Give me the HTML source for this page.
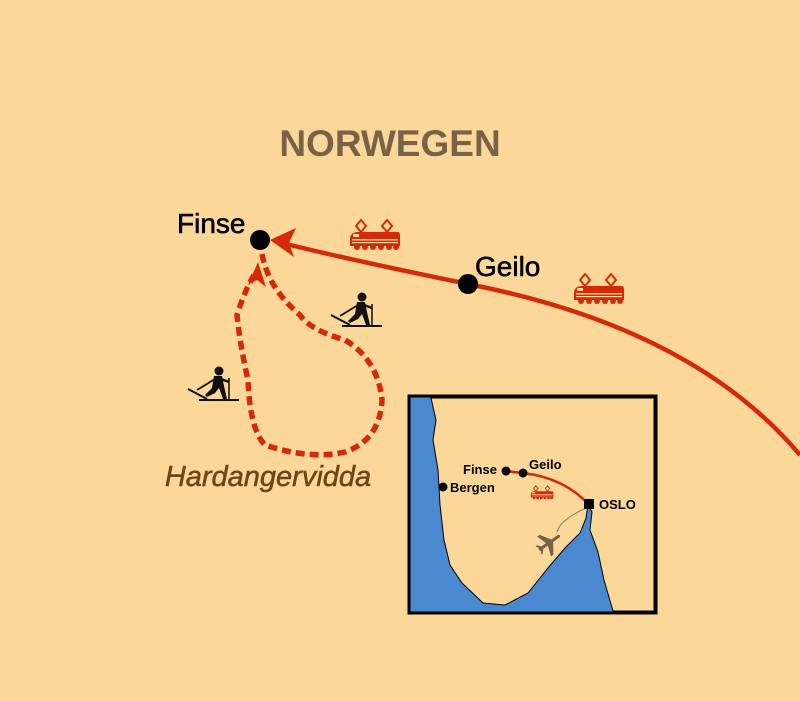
<!DOCTYPE html>
<html><head><meta charset="utf-8"><style>
html,body{margin:0;padding:0;background:#fbd899;}
svg{display:block}
text{font-family:"Liberation Sans",sans-serif}
</style></head><body>
<svg width="800" height="701" viewBox="0 0 800 701" xmlns="http://www.w3.org/2000/svg">
<defs>
<g id="train">
 <path d="M8 10 L13 4 L18 10 L13 16 Z M34 10 L39 4 L44 10 L39 16 Z" fill="none" stroke="#d42a0a" stroke-width="2"/>
 <path d="M2 30 L2 22 Q3 16 10 16 L50 16 Q52 16 52 20 L52 30 Z" fill="#d42a0a"/>
 <rect x="5" y="18" width="6" height="3" fill="#fbd899"/>
 <rect x="4" y="23" width="46" height="1.5" fill="#fbd899"/>
 <rect x="4" y="26" width="46" height="1.2" fill="#fbd899"/>
 <g fill="#d42a0a"><circle cx="9" cy="31" r="3"/><circle cx="17" cy="31" r="3"/><circle cx="25" cy="31" r="3"/><circle cx="33" cy="31" r="3"/><circle cx="41" cy="31" r="3"/><circle cx="48" cy="31" r="3"/></g>
</g>
<g id="skier" fill="#111">
 <circle cx="32" cy="5" r="4.5"/>
 <path d="M27 10 L35 10 L37 20 L40 33 L36 33 L32 22 L28 27 L20 31 L18 29 L25 22 Z"/>
 <path d="M34 13 L42 16" stroke="#111" stroke-width="2.5"/>
 <path d="M28 13 L10 24" stroke="#111" stroke-width="1.8"/>
 <path d="M42 12 L42 34" stroke="#111" stroke-width="1.5"/>
 <path d="M1 23 L20 33" stroke="#111" stroke-width="2"/>
 <path d="M12 34 L52 34" stroke="#111" stroke-width="2"/>
</g>
</defs>

<text x="390" y="156" text-anchor="middle" font-size="37" font-weight="bold" fill="#7a6248">NORWEGEN</text>

<path d="M800 455 C720 360 600 310 468 284 C400 270 330 255 282 243" fill="none" stroke="#d42a0a" stroke-width="4.5"/>
<path d="M270 240 L296 228 L289 243 L294 257 Z" fill="#d42a0a"/>

<path d="M262 254 Q268 288 300 315 Q310 330 345 340 Q378 360 382 400 Q380 440 345 452 Q310 460 265 445 Q250 430 248 380 Q240 345 237 315 Q245 290 254 275" fill="none" stroke="#d42a0a" stroke-width="5.5" stroke-dasharray="9 5"/>
<path d="M258 262 L248 285 L257 280 L266 287 Z" fill="#d42a0a"/>

<circle cx="260" cy="240" r="10" fill="#000"/>
<circle cx="468" cy="284" r="10" fill="#000"/>
<text x="177" y="233" font-size="28" fill="#000" stroke="#000" stroke-width="0.6">Finse</text>
<text x="475" y="276" font-size="28" fill="#000" stroke="#000" stroke-width="0.6">Geilo</text>

<use href="#train" x="348" y="216"/>
<use href="#train" x="572" y="270"/>

<use href="#skier" x="330" y="292"/>
<use href="#skier" x="187" y="366"/>

<text x="268" y="486" text-anchor="middle" font-size="29" font-style="italic" fill="#6f4418" stroke="#6f4418" stroke-width="0.5">Hardangervidda</text>

<rect x="409" y="396" width="247" height="217" fill="#4a88d0" stroke="#000" stroke-width="3"/>
<path d="M431 398 L436 420 L433 440 L438 470 L440 505 L444 540 L450 565 L462 583 L483 603 L505 605 L528 593 L548 568 L565 548 L580 533 L586 518 L588 505 L592 512 L590 530 L598 552 L604 580 L613 611 L654 611 L654 398 Z" fill="#fbd899" stroke="#000" stroke-width="1"/>
<rect x="409" y="396" width="247" height="217" fill="none" stroke="#000" stroke-width="3"/>

<path d="M505 471 L523 473 Q565 478 589 505" fill="none" stroke="#d42a0a" stroke-width="2.5"/>
<path d="M586 508 Q560 520 557 532" fill="none" stroke="#8a7a68" stroke-width="1"/>
<g fill="#7a6248" transform="translate(549,543) rotate(-35)">
 <path d="M-12 -1.5 L12 -1.5 Q15 0 12 1.5 L-12 1.5 Z"/>
 <path d="M-2 0 L-6 -12 L-3 -12 L5 0 L-3 12 L-6 12 Z"/>
 <path d="M-10 0 L-13 -5 L-11 -5 L-7 0 L-11 5 L-13 5 Z"/>
</g>
<circle cx="506" cy="471" r="4.5" fill="#000"/>
<circle cx="523" cy="473" r="4.5" fill="#000"/>
<circle cx="443" cy="487" r="4.5" fill="#000"/>
<rect x="584" y="499" width="10" height="10" fill="#000"/>
<text x="463" y="474" font-size="13" font-weight="bold" fill="#000">Finse</text>
<text x="529" y="469" font-size="13" font-weight="bold" fill="#000">Geilo</text>
<text x="450" y="492" font-size="13" font-weight="bold" fill="#000">Bergen</text>
<text x="599" y="509" font-size="13" font-weight="bold" fill="#000">OSLO</text>
<use href="#train" transform="translate(530,484) scale(0.45)"/>
</svg>
</body></html>
